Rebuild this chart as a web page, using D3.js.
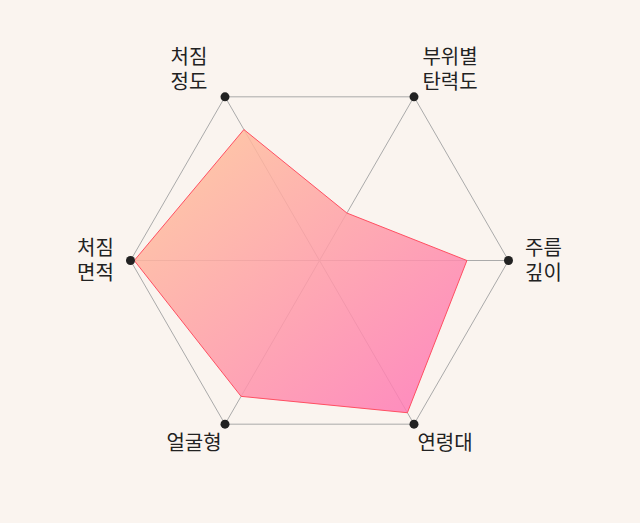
<!DOCTYPE html>
<html>
<head>
<meta charset="utf-8">
<script src="https://cdn.jsdelivr.net/npm/d3@7"></script>
<style>
  html, body { margin: 0; padding: 0; background: #faf4ef; }
  svg { display: block; }
</style>
</head>
<body>
<div id="chart"></div>
<script>
// axis labels (clockwise, starting top-left) and values in %
var axes = [["처짐", "정도"], ["부위별", "탄력도"], ["주름", "깊이"], ["연령대"], ["얼굴형"], ["처짐", "면적"]];
var values = [80, 29, 78, 93, 83, 98];

var width = 640, height = 523;
var cx = 319.5, cy = 260.5, radius = 189;

var svg = d3.select("#chart")
    .append("svg")
    .attr("width", width)
    .attr("height", height);

var g = svg.append("g")
    .attr("transform", "translate(" + cx + "," + cy + ")");

var r = d3.scaleLinear().domain([0, 100]).range([0, radius]);
var angle = d3.scaleLinear().domain([0, axes.length]).range([-2 * Math.PI / 3, 4 * Math.PI / 3]);

function pt(i, v) {
  var a = angle(i);
  return [Math.cos(a) * r(v), Math.sin(a) * r(v)];
}

// gradient for the filled area
var grad = svg.append("defs").append("linearGradient")
    .attr("id", "fillGrad")
    .attr("x1", 0).attr("y1", 0).attr("x2", 1).attr("y2", 1);
grad.append("stop").attr("offset", "0%").attr("stop-color", "#ffc897");
grad.append("stop").attr("offset", "100%").attr("stop-color", "#ff74b8");

// outer hexagon
g.append("polygon")
    .attr("points", axes.map((d, i) => pt(i, 100).join(",")).join(" "))
    .attr("fill", "none")
    .attr("stroke", "#aaa")
    .attr("stroke-width", 1);

// spokes
g.selectAll("line.spoke")
    .data(axes)
    .enter().append("line")
    .attr("class", "spoke")
    .attr("x1", 0).attr("y1", 0)
    .attr("x2", (d, i) => pt(i, 100)[0])
    .attr("y2", (d, i) => pt(i, 100)[1])
    .attr("stroke", "#aaa")
    .attr("stroke-width", 1);

// data area
g.append("polygon")
    .attr("points", values.map((v, i) => pt(i, v).join(",")).join(" "))
    .attr("fill", "url(#fillGrad)")
    .attr("fill-opacity", 0.85)
    .attr("stroke", "#ff4f62")
    .attr("stroke-width", 1);

// vertex dots
g.selectAll("circle.dot")
    .data(axes)
    .enter().append("circle")
    .attr("class", "dot")
    .attr("cx", (d, i) => pt(i, 100)[0])
    .attr("cy", (d, i) => pt(i, 100)[1])
    .attr("r", 4.5)
    .attr("fill", "#222");

// labels
var lineH = 25;
var labels = g.selectAll("text.label")
    .data(axes)
    .enter().append("text")
    .attr("class", "label")
    .attr("text-anchor", "middle")
    .style("font-family", "'Noto Sans CJK KR', 'Noto Sans', sans-serif")
    .style("font-size", "20px")
    .attr("fill", "#222")
    .each(function(d, i) {
      var a = angle(i), c = Math.cos(a), s = Math.sin(a);
      var p = pt(i, 100);
      var dx = Math.abs(c) > 0.9 ? Math.sign(c) * 35 : Math.sign(c) * (s < 0 ? 36 : 31);
      var dy = s < -0.1 ? -27 : (s > 0.1 ? 19 : 0);
      var lx = p[0] + dx, ly = p[1] + dy;
      var t = d3.select(this);
      d.forEach(function(line, k) {
        t.append("tspan")
            .attr("x", lx)
            .attr("y", ly + (k - (d.length - 1) / 2) * lineH + 7)
            .text(line);
      });
    });
</script>
</body>
</html>
